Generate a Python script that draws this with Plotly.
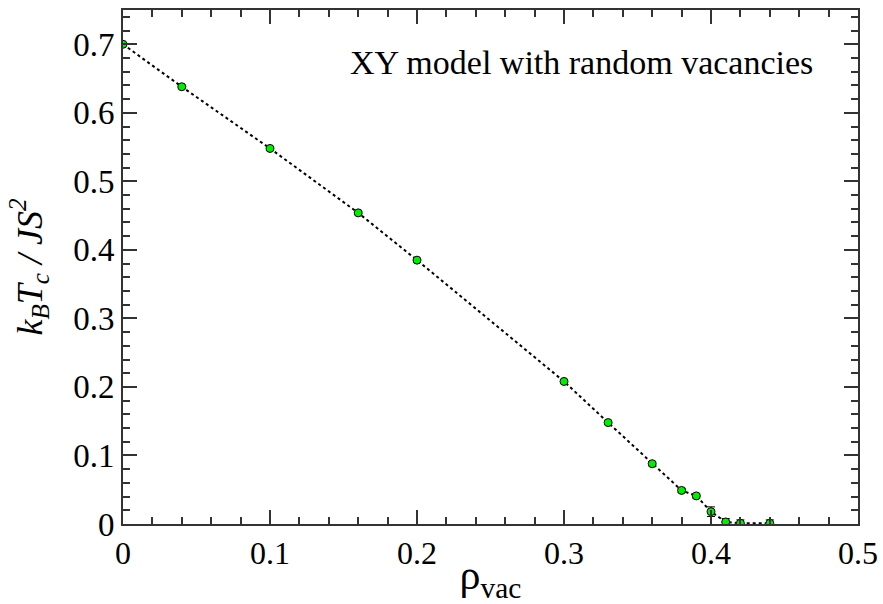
import plotly.graph_objects as go

rho_vac = [0.0, 0.04, 0.10, 0.16, 0.20, 0.30, 0.33, 0.36, 0.38, 0.39, 0.40, 0.41, 0.42, 0.44]
tc = [0.700, 0.638, 0.548, 0.454, 0.385, 0.208, 0.148, 0.088, 0.049, 0.041, 0.018, 0.003, 0.001, 0.001]
tc_err = [0.001, 0.002, 0.002, 0.002, 0.002, 0.002, 0.002, 0.003, 0.003, 0.003, 0.007, 0.005, 0.005, 0.005]

SERIF = "Liberation Serif, Times New Roman, DejaVu Serif, serif"

fig = go.Figure()
fig.add_trace(go.Scatter(
    x=rho_vac, y=tc, mode="lines+markers",
    line=dict(color="black", width=2, dash="dot"),
    marker=dict(color="#00ee00", size=8, line=dict(color="black", width=1)),
    error_y=dict(type="data", array=tc_err, color="black", thickness=1, width=4),
    showlegend=False,
))

axis_common = dict(
    showline=True, linecolor="#333", linewidth=2, mirror="ticks",
    ticks="inside", ticklen=14, tickwidth=2, tickcolor="#333",
    showgrid=False, zeroline=False, automargin=False,
    minor=dict(ticks="inside", ticklen=7, tickwidth=2, tickcolor="#333", showgrid=False),
)

fig.update_xaxes(range=[0, 0.5], dtick=0.1, minor_dtick=0.02, **axis_common,
                 tickfont_family=SERIF, tickfont_size=32, tickfont_color="black",
                 title=dict(text="ρ<sub>vac</sub>", font=dict(family=SERIF, size=42, color="black"), standoff=4))
fig.update_yaxes(range=[0, 0.75], dtick=0.1, minor_dtick=0.02, **axis_common,
                 tickfont_family=SERIF, tickfont_size=33, tickfont_color="black",
                 title=dict(text="<i>k<sub>B</sub>T<sub>c</sub> / JS<sup>2</sup></i>", font=dict(family=SERIF, size=36, color="black"), standoff=20))

fig.add_annotation(text="XY model with random vacancies", x=0.941, y=0.897, xref="paper", yref="paper",
                   xanchor="right", yanchor="middle", showarrow=False,
                   font=dict(family=SERIF, size=34, color="black"))

fig.update_layout(width=883, height=604, margin=dict(l=123, r=25, t=10, b=80),
                  font=dict(family=SERIF, color="black"),
                  plot_bgcolor="white", paper_bgcolor="white")

fig.write_html("out.html")
